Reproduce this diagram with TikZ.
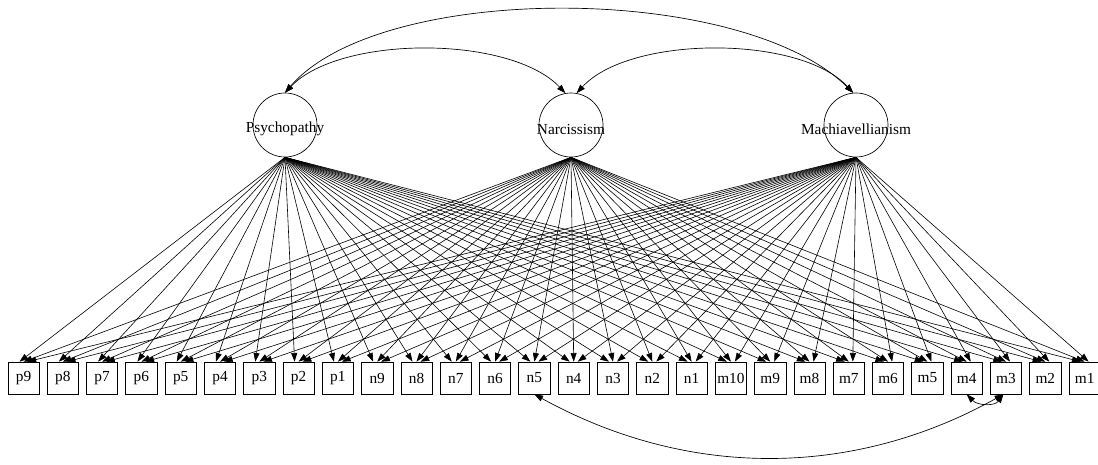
\documentclass[tikz,border=0pt]{standalone}
\usepackage{fontspec}
\setmainfont{Liberation Serif}
\usetikzlibrary{arrows.meta}
\begin{document}
\begin{tikzpicture}[x=0.75pt,y=-0.75pt,
  lat/.style={draw,circle,minimum size=48pt,inner sep=0pt,line width=0.5pt},
  latlabel/.style={font=\fontsize{11.5}{13}\selectfont,yshift=-3pt},
  ind/.style={draw,rectangle,minimum width=23.5pt,minimum height=24pt,inner sep=1pt,line width=0.5pt,font=\fontsize{11.5}{13}\selectfont},
  edge/.style={line width=0.45pt,-{Triangle[length=6.5pt,width=4.5pt]}},
  cov/.style={line width=0.5pt,{Triangle[length=6.5pt,width=4.5pt]}-{Triangle[length=6.5pt,width=4.5pt]}}]
\useasboundingbox (0,0) rectangle (1098,464);
% latent variables
\node[lat,label={[latlabel]center:Psychopathy}] (Psy) at (285,125) {};
\node[lat,label={[latlabel]center:Narcissism}] (Nar) at (571,125) {};
\node[lat,label={[latlabel]center:Machiavellianism}] (Mac) at (856,125) {};
% indicators
\foreach \nm [count=\i from 0] in {p9,p8,p7,p6,p5,p4,p3,p2,p1,n9,n8,n7,n6,n5,n4,n3,n2,n1,m10,m9,m8,m7,m6,m5,m4,m3,m2,m1}
  \node[ind] (\nm) at ({23.5+39.3*\i},378) {\nm};
% loadings
\foreach \lat/\off in {Psy/-3pt,Nar/0pt,Mac/3pt}
  \foreach \nm in {p9,p8,p7,p6,p5,p4,p3,p2,p1,n9,n8,n7,n6,n5,n4,n3,n2,n1,m10,m9,m8,m7,m6,m5,m4,m3,m2,m1}
    \draw[edge] (\lat.south) -- ([xshift=\off]\nm.north);
% latent covariances
\draw[cov] (Psy.north) .. controls (380,-18) and (740,-18) .. (Mac.95);
\draw[cov] (Psy.north) .. controls (340,35) and (510,35) .. (Nar.100);
\draw[cov] (Nar.80) .. controls (630,35) and (800,35) .. (Mac.95);
% residual covariances
\draw[cov] (n5.south) .. controls (690,480) and (855,477) .. ([xshift=-2pt]m3.south);
\draw[cov] (m4.south) .. controls (978,406) and (995,406) .. ([xshift=-2pt]m3.south);
\end{tikzpicture}
\end{document}
